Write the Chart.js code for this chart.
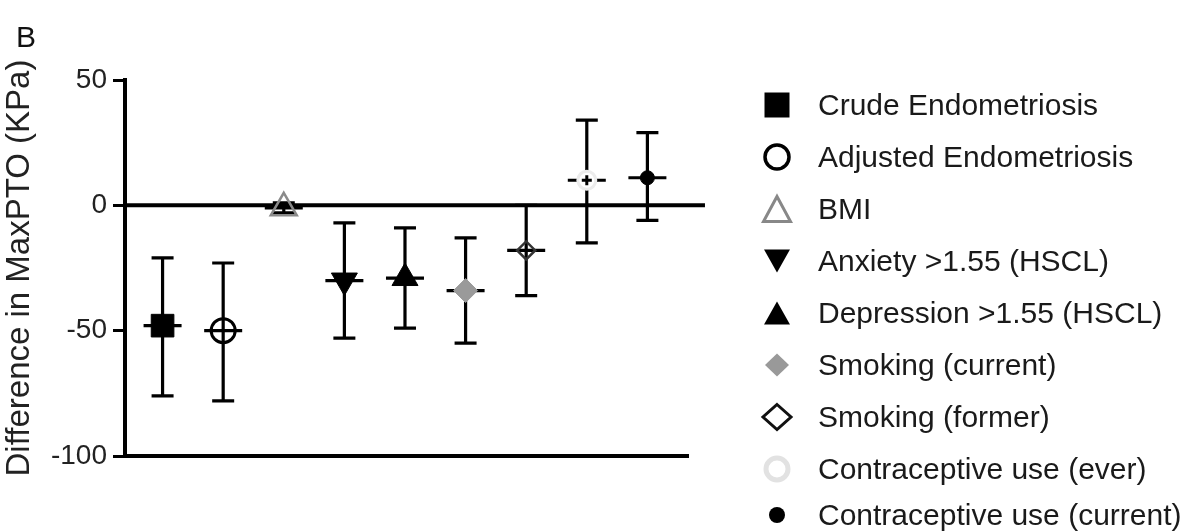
<!DOCTYPE html>
<html>
<head>
<meta charset="utf-8">
<script src="https://cdn.jsdelivr.net/npm/chart.js@4/dist/chart.umd.min.js"></script>
<style>
body { margin: 0; background: #fff; font-family: "Liberation Sans", Arial, sans-serif; }
#wrap { position: relative; width: 1191px; height: 531px; }
#panel { position: absolute; left: 16px; top: 20px; font-size: 30px; color: #111; }
#legend { position: absolute; left: 759px; top: 79px; }
.item { height: 52px; display: flex; align-items: center; font-size: 30px; color: #1a1a1a; white-space: nowrap; }
.item:last-child { margin-top: -6px; }
.item canvas { width: 36px; height: 36px; margin-right: 23px; }
</style>
</head>
<body>
<div id="wrap">
  <canvas id="chart" width="1191" height="531"></canvas>
  <div id="panel">B</div>
  <div id="legend"></div>
</div>
<script>
// Groups (one point each, left to right)
const labels = ['Crude Endometriosis', 'Adjusted Endometriosis', 'BMI', 'Anxiety >1.55 (HSCL)',
  'Depression >1.55 (HSCL)', 'Smoking (current)', 'Smoking (former)',
  'Contraceptive use (ever)', 'Contraceptive use (current)'];
// Difference in MaxPTO (KPa), mean and error bar ends
const means = [-48, -50, -1, -30, -29, -34, -18, 10, 11];
const lower = [-76, -78, -3, -53, -49, -55, -36, -15, -6];
const upper = [-21, -23, 1, -7, -9, -13, 0, 34, 29];
const yTicks = [-100, -50, 0, 50];

const family = '"Liberation Sans", Arial, sans-serif';

// zero line + error bars, drawn under the markers
const errorBars = {
  id: 'errorBars',
  beforeDatasetsDraw(chart) {
    const { ctx, chartArea, scales: { x, y } } = chart;
    ctx.save();
    ctx.strokeStyle = '#000';
    ctx.lineWidth = 4;
    const y0 = y.getPixelForValue(0);
    ctx.beginPath();
    ctx.moveTo(chartArea.left, y0);
    ctx.lineTo(x.getPixelForValue(8.95), y0);
    ctx.stroke();

    ctx.lineWidth = 3.2;
    means.forEach((m, i) => {
      const px = x.getPixelForValue(i);
      const top = y.getPixelForValue(upper[i]);
      const bot = y.getPixelForValue(lower[i]);
      const mid = y.getPixelForValue(m);
      ctx.beginPath();
      ctx.moveTo(px, top); ctx.lineTo(px, bot);
      ctx.moveTo(px - 11, top); ctx.lineTo(px + 11, top);
      ctx.moveTo(px - 11, bot); ctx.lineTo(px + 11, bot);
      ctx.moveTo(px - 19, mid); ctx.lineTo(px + 19, mid);
      ctx.stroke();
    });
    ctx.restore();
  }
};

new Chart(document.getElementById('chart'), {
  type: 'scatter',
  data: {
    datasets: [{
      data: means.map((m, i) => ({ x: i, y: m })),
      order: 1,
      pointStyle: ['rect', 'circle', 'triangle', 'triangle', 'triangle', 'rectRot', 'rectRot', 'circle', 'circle'],
      rotation: [0, 0, 0, 180, 0, 0, 0, 0, 0],
      pointRadius: [16, 12, 15, 15, 15, 12, 9, 9, 7],
      pointBackgroundColor: ['#000', 'rgba(0,0,0,0)', 'rgba(0,0,0,0)', '#000', '#000', '#9a9a9a', 'rgba(0,0,0,0)', '#fff', '#000'],
      pointBorderColor: ['#000', '#000', '#8a8a8a', '#000', '#000', '#9a9a9a', '#333', '#ececec', '#000'],
      pointBorderWidth: [1, 3, 2.5, 1, 1, 1, 2.5, 3, 1]
    }, {
      // small cross in the centre of the "ever" marker
      data: [{ x: 7, y: means[7] }],
      order: 0,
      pointStyle: 'cross',
      pointRadius: 5,
      pointBorderColor: '#000',
      pointBorderWidth: 3
    }]
  },
  options: {
    responsive: false,
    animation: false,
    devicePixelRatio: 1,
    layout: { padding: { top: 80, right: 503, bottom: 75, left: 0 } },
    plugins: { legend: { display: false }, tooltip: { enabled: false } },
    scales: {
      x: {
        type: 'linear', min: -0.62, max: 8.67,
        ticks: { display: false },
        grid: { display: false },
        border: { display: true, color: '#000', width: 4 },
        afterFit(s) { s.height = 0; }
      },
      y: {
        min: -100, max: 50,
        afterBuildTicks(s) { s.ticks = yTicks.map(v => ({ value: v })); },
        ticks: { color: '#222', padding: 6, font: { size: 28, family } },
        grid: { drawOnChartArea: false, drawTicks: true, tickLength: 12, color: '#000', lineWidth: 3 },
        border: { display: true, color: '#000', width: 4 },
        title: {
          display: true, text: 'Difference in MaxPTO (KPa)', color: '#222',
          font: { size: 33, family }, padding: { top: 0, bottom: 0 }
        },
        afterFit(s) { s.width = 125; }
      }
    }
  },
  plugins: [errorBars]
});

// legend markers
const legendMarks = [
  { shape: 'square', w: 25, fill: '#000' },
  { shape: 'circle', r: 12, stroke: '#000', lw: 3.5 },
  { shape: 'up', w: 27, h: 25, stroke: '#888', lw: 3 },
  { shape: 'down', w: 26, h: 23, fill: '#000' },
  { shape: 'up', w: 26, h: 23, fill: '#000' },
  { shape: 'diamond', w: 24, h: 23, fill: '#999' },
  { shape: 'diamond', w: 28, h: 25, stroke: '#111', lw: 3 },
  { shape: 'circle', r: 11, stroke: '#e2e2e2', lw: 5 },
  { shape: 'circle', r: 8, fill: '#000' }
];

function drawMark(cv, m) {
  const c = cv.getContext('2d');
  c.translate(18, 18);
  c.beginPath();
  if (m.shape === 'square') c.rect(-m.w / 2, -m.w / 2, m.w, m.w);
  if (m.shape === 'circle') c.arc(0, 0, m.r, 0, Math.PI * 2);
  if (m.shape === 'up') { c.moveTo(0, -m.h / 2); c.lineTo(m.w / 2, m.h / 2); c.lineTo(-m.w / 2, m.h / 2); c.closePath(); }
  if (m.shape === 'down') { c.moveTo(0, m.h / 2); c.lineTo(m.w / 2, -m.h / 2); c.lineTo(-m.w / 2, -m.h / 2); c.closePath(); }
  if (m.shape === 'diamond') { c.moveTo(0, -m.h / 2); c.lineTo(m.w / 2, 0); c.lineTo(0, m.h / 2); c.lineTo(-m.w / 2, 0); c.closePath(); }
  if (m.fill) { c.fillStyle = m.fill; c.fill(); }
  if (m.stroke) { c.strokeStyle = m.stroke; c.lineWidth = m.lw; c.stroke(); }
}

const legend = document.getElementById('legend');
labels.forEach((name, i) => {
  const row = document.createElement('div');
  row.className = 'item';
  const cv = document.createElement('canvas');
  cv.width = 36; cv.height = 36;
  drawMark(cv, legendMarks[i]);
  const span = document.createElement('span');
  span.textContent = name;
  row.appendChild(cv);
  row.appendChild(span);
  legend.appendChild(row);
});
</script>
</body>
</html>
